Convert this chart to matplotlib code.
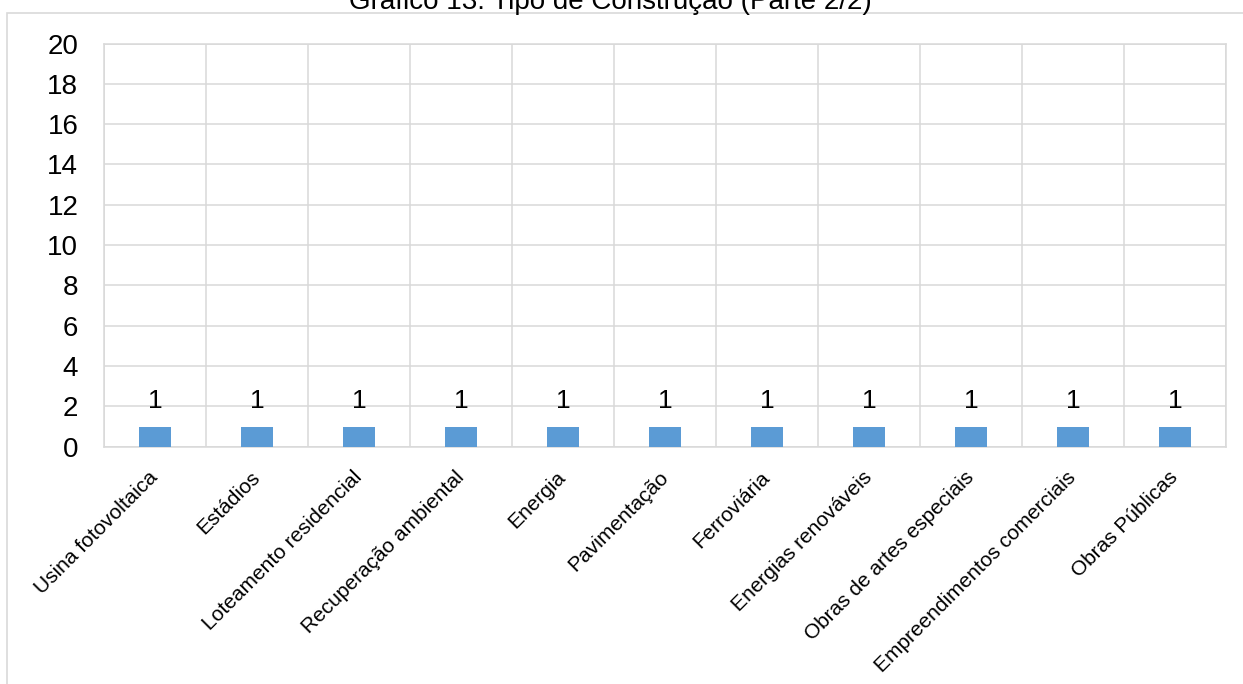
import numpy as np
import matplotlib.pyplot as plt
from matplotlib.patches import Rectangle

plt.rcParams['font.family'] = ['Liberation Sans', 'DejaVu Sans']

categorias = ["Usina fotovoltaica", "Estádios", "Loteamento residencial",
              "Recuperação ambiental", "Energia", "Pavimentação", "Ferroviária",
              "Energias renováveis", "Obras de artes especiais",
              "Empreendimentos comerciais", "Obras Públicas"]
valores = [1, 1, 1, 1, 1, 1, 1, 1, 1, 1, 1]
y_ticks = [0, 2, 4, 6, 8, 10, 12, 14, 16, 18, 20]

grid_color = '#d9d9d9'
bar_color = '#5b9bd5'

fig = plt.figure(figsize=(12.43, 6.84), dpi=100)

# moldura externa do gráfico (continua além da borda da imagem)
fig.patches.append(Rectangle((7 / 1243, -0.1), 1.2, 1 - 13 / 684 + 0.1,
                             transform=fig.transFigure, fill=False,
                             edgecolor=grid_color, linewidth=1.2))

fig.text(610 / 1243, 1 - 9 / 684, "Gráfico 13: Tipo de Construção (Parte 2/2)",
         ha='center', va='baseline', fontsize=20)

ax = fig.add_axes([104 / 1243, 1 - 446.7 / 684, (1226 - 104) / 1243, (446.7 - 43.5) / 684])

x = np.arange(len(categorias))
bars = ax.bar(x, valores, width=0.31, color=bar_color, zorder=3)

for xi, v in zip(x, valores):
    ax.annotate(str(v), (xi, v), xytext=(0, 13), textcoords='offset points',
                ha='center', va='baseline', fontsize=19)

ax.set_xlim(-0.5, len(categorias) - 0.5)
ax.set_ylim(0, 20)
ax.set_yticks(y_ticks)
ax.set_yticklabels([str(t) for t in y_ticks], fontsize=20)
ax.tick_params(axis='y', length=0, pad=18.5)

ax.set_xticks(x)
ax.set_xticklabels(categorias, rotation=45, ha='right', va='center',
                   rotation_mode='anchor', fontsize=15)
ax.tick_params(axis='x', length=0, pad=20)

# linhas de grade: horizontais nos ticks, verticais entre categorias
ax.set_xticks(np.arange(-0.5, len(categorias), 1), minor=True)
ax.tick_params(axis='x', which='minor', length=0)
ax.grid(axis='y', which='major', color=grid_color, linewidth=1.1, zorder=0)
ax.grid(axis='x', which='minor', color=grid_color, linewidth=1.1, zorder=0)
ax.set_axisbelow(True)

for s in ax.spines.values():
    s.set_color(grid_color)
    s.set_linewidth(1.1)

fig.savefig('out.png', dpi=100)
